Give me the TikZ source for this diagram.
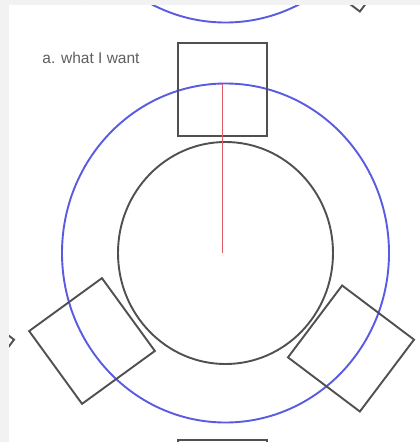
\documentclass[tikz,border=0pt]{standalone}
\usepackage{fontspec}
\setmainfont{Liberation Sans}
\definecolor{ink}{RGB}{80,80,80}
\definecolor{ringblue}{RGB}{90,90,226}
\definecolor{spokered}{RGB}{226,92,102}
\definecolor{labelgray}{RGB}{95,95,95}
\definecolor{margin}{RGB}{242,242,242}
\begin{document}
\begin{tikzpicture}[x=1pt,y=-1pt,
  ring/.style={draw=ringblue, line width=1.9pt},
  hub/.style={draw=ink, line width=1.9pt},
  box/.style={draw=ink, line width=1.9pt, minimum width=90pt, minimum height=90pt, inner sep=0pt, outer sep=0pt},
  spoke/.style={draw=spokered, line width=1.9pt},
  unit/.pic={
    \coordinate (-c) at (225.5,253);
    \draw[hub] (-c) ellipse [x radius=107.5, y radius=111];
    \draw[ring] (-c) ellipse [x radius=163.5, y radius=169.5];
    \node[box, minimum width=89pt, minimum height=93pt] (-top) at (222.5,89.5) {};
    \node[box, rotate=36] (-left) at (92,341) {};
    \node[box, rotate=-37] (-right) at (351,348.5) {};
  }]
\useasboundingbox (0,0) rectangle (420,442);
\fill[margin] (0,0) rectangle (420,442);
\fill[white] (9,5) rectangle (420,442);
\begin{scope}
  \clip (9,5) rectangle (420,442);
  \pic (above) at (0,-400) {unit};
  \pic (beside) at (-400,0) {unit};
  \pic (below) at (0,397) {unit};
  \pic (main) at (0,0) {unit};
  \coordinate (spokefoot) at (222.5,253);
  \coordinate (spoketip) at (222.5,84);
  \draw[spoke] (spokefoot) -- (spoketip);
  \node[text=labelgray, font=\fontsize{15.5}{18}\selectfont, inner sep=0pt] (lbl) at (91,58) {a. what I want};
\end{scope}
\end{tikzpicture}
\end{document}
